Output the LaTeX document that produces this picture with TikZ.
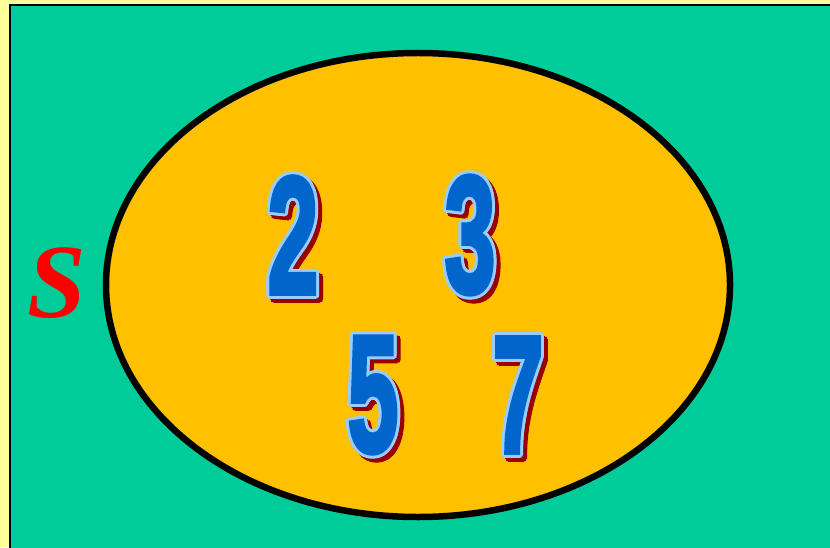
\documentclass[tikz,border=0pt]{standalone}
\usepackage{fontspec}
\usepackage{graphicx}
\newfontfamily\digitfont[FakeBold=3]{Liberation Sans}
\newfontfamily\labelfont{Liberation Serif}
\definecolor{pagebg}{HTML}{FFFF99}
\definecolor{universe}{HTML}{00CC99}
\definecolor{primeset}{HTML}{FFC000}
\definecolor{numblue}{HTML}{0066CC}
\definecolor{numrim}{HTML}{99CCFF}
\definecolor{numshade}{HTML}{990000}
\definecolor{setred}{HTML}{FF0000}
\newcommand{\slimdigit}[1]{\scalebox{0.55}[1]{#1}}
\tikzset{
  digit/.style={inner sep=0pt,
                font=\digitfont\bfseries\fontsize{95}{95}\selectfont},
  digitfill/.style={digit,text=numblue},
  digitrim/.style={digit,text=numrim},
  digitshade/.style={digit,text=numshade},
  setlabel/.style={inner sep=0pt,text=setred,
                   font=\labelfont\bfseries\itshape\fontsize{60}{60}\selectfont},
  universebox/.style={fill=universe,draw=black,line width=0.04cm},
  primeoval/.style={fill=primeset,draw=black,line width=0.13cm}
}
\begin{document}
\begin{tikzpicture}[x=0.02cm,y=-0.02cm]
    \path[use as bounding box,fill=pagebg] (0,0) rectangle (830,547);
    \begin{scope}
      \clip (0,0) rectangle (830,547);
      \path[universebox] (10,5) rectangle (840,560);
    \end{scope}
    \path[primeoval] (418,285) ellipse [x radius=312,y radius=232];

    \node[setlabel] (setS) at (57,283) {S};

    % shadow, light rim, then blue face
    \foreach \n/\x/\y in {2/293/235,3/470/235,5/373/395,7/518/395}{
      \foreach \a in {0,45,...,315}
        \node[digitshade,shift={(\a:3)}] (shade\n-\a) at (\x+4,\y+4)
          {\slimdigit{\n}};
      \foreach \a in {0,30,...,330}
        \node[digitrim,shift={(\a:3)}] (rim\n-\a) at (\x,\y)
          {\slimdigit{\n}};
      \node[digitfill] (d\n) at (\x,\y) {\slimdigit{\n}};
    }
\end{tikzpicture}
\end{document}
